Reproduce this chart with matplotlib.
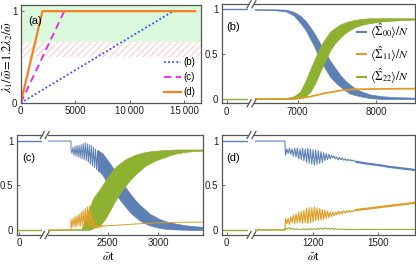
import numpy as np
import matplotlib
matplotlib.use("Agg")
import matplotlib.pyplot as plt
from matplotlib.lines import Line2D

plt.rcParams['font.family'] = ['Liberation Sans', 'DejaVu Sans']
plt.rcParams['mathtext.fontset'] = 'stix'
plt.rcParams['hatch.linewidth'] = 0.7

W, H = 416, 266
fig = plt.figure(figsize=(W / 100, H / 100), dpi=100)

C0, C1, C2 = '#5E81B5', '#E19C24', '#8FB131'
SP = '#555555'
FS = 7

def rect(l, r, t, b):
    return [l / W, 1 - b / H, (r - l) / W, (b - t) / H]

# ---------------- data ----------------
# (a) ramps
a_b_x = [0, 14000, 16000]; a_b_y = [0, 1, 1]
a_c_x = [0, 4000];          a_c_y = [0, 1]
a_d_x = [0, 2000, 16000];  a_d_y = [0, 1, 1]
a_labels = ['(b)', '(c)', '(d)']

# (b) bands
b_x = [6448, 6700, 6850, 6950, 7030, 7100, 7160, 7220, 7285, 7350, 7412, 7475,
       7540, 7600, 7668, 7730, 7796, 7860, 7923, 8000, 8089, 8250, 8498]
b_s00_lo = [0.995, 0.99, 0.975, 0.93, 0.85, 0.77, 0.67, 0.57, 0.44, 0.34, 0.25, 0.19,
            0.14, 0.10, 0.06, 0.045, 0.03, 0.02, 0.01, 0.005, 0.0, 0.0, 0.0]
b_s00_hi = [1.0, 1.0, 0.995, 0.97, 0.93, 0.87, 0.80, 0.72, 0.62, 0.52, 0.43, 0.35,
            0.27, 0.21, 0.16, 0.12, 0.09, 0.07, 0.05, 0.04, 0.03, 0.02, 0.015]
b_s22_lo = [0.0, 0.0, 0.0, 0.005, 0.01, 0.03, 0.08, 0.17, 0.30, 0.42, 0.54, 0.62,
            0.68, 0.73, 0.77, 0.80, 0.82, 0.835, 0.845, 0.855, 0.865, 0.875, 0.885]
b_s22_hi = [0.005, 0.008, 0.01, 0.03, 0.08, 0.20, 0.33, 0.45, 0.58, 0.67, 0.75, 0.79,
            0.83, 0.85, 0.87, 0.88, 0.89, 0.895, 0.90, 0.90, 0.90, 0.90, 0.90]
b_s11_x = [6448, 6950, 7050, 7150, 7250, 7350, 7450, 7550, 7650, 7750, 7900, 8100, 8498]
b_s11_y = [0, 0, 0.01, 0.025, 0.045, 0.065, 0.08, 0.095, 0.103, 0.108, 0.11, 0.112, 0.115]

# (c)
c_start = 1911
c_jump = 2138
c_s00_osc = [0.90, 0.86, 0.93, 0.84, 0.94, 0.83, 0.95, 0.82, 0.95, 0.81, 0.96, 0.80, 0.97,
             0.79, 0.98, 0.78, 0.97, 0.76, 0.96, 0.74, 0.95, 0.72, 0.93, 0.70, 0.91, 0.68,
             0.89, 0.66, 0.86]
c_band_x = [2400, 2450, 2522, 2570, 2622, 2670, 2721, 2770, 2820, 2870, 2918, 2970, 3017,
            3070, 3116, 3180, 3248, 3330, 3440]
c_s00_lo = [0.68, 0.62, 0.48, 0.42, 0.34, 0.27, 0.20, 0.15, 0.105, 0.075, 0.05, 0.035,
            0.022, 0.014, 0.009, 0.005, 0.003, 0.0, 0.0]
c_s00_hi = [0.90, 0.86, 0.75, 0.67, 0.57, 0.49, 0.41, 0.34, 0.28, 0.23, 0.18, 0.15, 0.12,
            0.10, 0.085, 0.07, 0.055, 0.045, 0.035]
c_g_x = [1911, 2240, 2280, 2320, 2360, 2424, 2474, 2524, 2570, 2622, 2670, 2721, 2770,
         2820, 2870, 2918, 2970, 3017, 3070, 3116, 3180, 3248, 3330, 3440]
c_s22_lo = [0, 0, 0, 0, 0.02, 0.05, 0.12, 0.22, 0.32, 0.41, 0.49, 0.56, 0.62, 0.67, 0.72,
            0.75, 0.78, 0.80, 0.82, 0.84, 0.86, 0.875, 0.885, 0.89]
c_s22_hi = [0.004, 0.01, 0.12, 0.25, 0.36, 0.46, 0.55, 0.63, 0.70, 0.75, 0.79, 0.82, 0.845,
            0.86, 0.875, 0.885, 0.89, 0.895, 0.90, 0.90, 0.905, 0.905, 0.905, 0.905]
c_s11_osc = [0.12, 0.03, 0.13, 0.04, 0.15, 0.03, 0.16, 0.05, 0.18, 0.04, 0.20, 0.05, 0.22,
             0.04, 0.24, 0.05, 0.26, 0.04, 0.27, 0.05, 0.20, 0.03, 0.12]
c_s11_wig = [0.02, 0.06, 0.02, 0.055, 0.025, 0.05, 0.03, 0.05, 0.035, 0.05, 0.04, 0.05,
             0.042, 0.05]
c_s11_x = [2550, 2650, 2750, 2850, 2950, 3050, 3150, 3300, 3440]
c_s11_y = [0.05, 0.058, 0.065, 0.072, 0.078, 0.082, 0.085, 0.087, 0.088]

# (d)
d_start = 929
d_jump = 1069
d_s00_osc = [0.84, 0.91, 0.86, 0.92, 0.85, 0.91, 0.83, 0.92, 0.82, 0.92, 0.80, 0.91, 0.79,
             0.92, 0.78, 0.91, 0.76, 0.92, 0.75, 0.91, 0.74, 0.90, 0.73, 0.90, 0.74, 0.89,
             0.75, 0.88, 0.76, 0.87, 0.78, 0.86, 0.79, 0.85, 0.80, 0.84, 0.81]
d_s11_osc = [0.13, 0.07, 0.13, 0.06, 0.15, 0.08, 0.17, 0.07, 0.18, 0.08, 0.20, 0.08, 0.21,
             0.07, 0.22, 0.08, 0.24, 0.07, 0.25, 0.08, 0.25, 0.09, 0.26, 0.10, 0.25, 0.10,
             0.24, 0.11, 0.23, 0.12, 0.22, 0.13, 0.21, 0.14, 0.20, 0.15, 0.20]
d_s00_wig = [0.83, 0.80, 0.82, 0.79, 0.815, 0.79, 0.81, 0.785, 0.80, 0.78, 0.795, 0.78,
             0.79, 0.775, 0.785, 0.775]
d_s11_wig = [0.16, 0.20, 0.17, 0.21, 0.175, 0.21, 0.18, 0.215, 0.19, 0.215, 0.195, 0.22,
             0.20, 0.22, 0.205, 0.222]
d_tail_x = [1400, 1450, 1500, 1550, 1600, 1669]
d_s00_tail = [0.765, 0.745, 0.73, 0.71, 0.695, 0.675]
d_s11_tail = [0.225, 0.24, 0.255, 0.27, 0.285, 0.305]
d_s22_wig = [0.02, 0.01, 0.025, 0.008, 0.018, 0.005, 0.012, 0.004, 0.01, 0.004, 0.012,
             0.004, 0.012, 0.005, 0.013, 0.005, 0.015, 0.006, 0.018, 0.007, 0.022, 0.006,
             0.025, 0.008, 0.022, 0.006, 0.018, 0.006, 0.015, 0.005, 0.012, 0.005, 0.01,
             0.004, 0.009, 0.004, 0.008, 0.004, 0.007, 0.004, 0.006]

legend_labels = [r'$\langle\hat{\Sigma}_{00}\rangle/N$',
                 r'$\langle\hat{\Sigma}_{11}\rangle/N$',
                 r'$\langle\hat{\Sigma}_{22}\rangle/N$']

# ---------------- helpers ----------------
def style(ax, left=True, right=True):
    for s in ax.spines.values():
        s.set_color(SP); s.set_linewidth(0.9)
    ax.spines['left'].set_visible(left)
    ax.spines['right'].set_visible(right)
    ax.tick_params(direction='in', length=2.5, width=0.6, color=SP,
                   labelsize=FS, pad=2.5, labelcolor='#222222')

def draw_break(xc, ytop, ybot):
    for y in (ytop, ybot):
        for dx in (-2.4, 2.4):
            fig.add_artist(Line2D([(xc + dx - 2.0) / W, (xc + dx + 2.0) / W],
                                  [1 - (y + 3.5) / H, 1 - (y - 3.5) / H],
                                  color=SP, lw=0.9))

def broken(lft, mid_l, mid_r, rgt, top, bot, xl_left, xl_right, ylim, xticks):
    axL = fig.add_axes(rect(lft, mid_l, top, bot))
    axR = fig.add_axes(rect(mid_r, rgt, top, bot))
    style(axL, left=True, right=False)
    style(axR, left=False, right=True)
    axL.set_xlim(*xl_left); axR.set_xlim(*xl_right)
    for a in (axL, axR):
        a.set_ylim(*ylim)
    axL.set_xticks([0]); axL.set_xticklabels(['0'])
    axL.set_yticks([0, 0.5, 1]); axL.set_yticklabels(['0', '0.5', '1'])
    axR.set_yticks([])
    axR.set_xticks(xticks); axR.set_xticklabels([str(t) for t in xticks])
    draw_break((mid_l + mid_r) / 2, top, bot)
    return axL, axR

# ---------------- panel (a) ----------------
axa = fig.add_axes(rect(20.7, 200.7, 4.7, 103))
style(axa)
axa.set_xlim(0, 16514); axa.set_ylim(0, 1.07)
axa.axhspan(0.66, 1.07, color='#dcf8dc', lw=0, zorder=0)
axa.axhspan(0.5, 0.66, facecolor='none', edgecolor='#ffc4c4', hatch='/////', lw=0, zorder=0)
axa.plot(a_b_x, a_b_y, ls=(0, (1, 1.3)), color='#3355ee', lw=1.3, label=a_labels[0])
axa.plot(a_c_x, a_c_y, ls=(0, (4, 2.5)), color='#ee22ee', lw=1.3, label=a_labels[1])
axa.plot(a_d_x, a_d_y, color='#f08228', lw=1.6, label=a_labels[2])
axa.set_xticks([0, 5000, 10000, 15000])
axa.set_xticklabels(['0', '5000', '10\u2009000', '15\u2009000'])
axa.set_yticks([0, 1]); axa.set_yticklabels(['0', '1'])
axa.legend(loc='lower right', frameon=False, fontsize=FS, handlelength=1.8,
           handletextpad=0.2, labelspacing=0.5, borderaxespad=0.2)
axa.text(0.04, 0.8, '(a)', transform=axa.transAxes, fontsize=8)
fig.text(8 / W, 1 - 57 / H, r'$\lambda_1/\bar{\omega}\!=\!1.2\lambda_2/\bar{\omega}$',
         rotation=90, ha='center', va='center', fontsize=9)

# ---------------- panel (b) ----------------
bL, bR = broken(221.7, 248.5, 254.5, 415, 4.3, 103.3, (-64, 278), (6448, 8498),
                (-0.048, 1.055), [7000, 8000])
bL.plot([-64, 278], [1, 1], color=C0, lw=1.0)
bL.plot([-64, 278], [0, 0], color=C2, lw=1.0)
bR.fill_between(b_x, b_s00_lo, b_s00_hi, color=C0, lw=0.5, ec=C0)
bR.plot(b_s11_x, b_s11_y, color=C1, lw=1.3)
bR.fill_between(b_x, b_s22_lo, b_s22_hi, color=C2, lw=0.5, ec=C2)
handles = [Line2D([], [], color=c, lw=1.5) for c in (C0, C1, C2)]
bR.legend(handles, legend_labels, loc='center right', bbox_to_anchor=(1.0, 0.5),
          frameon=False, fontsize=8.5, handlelength=0.8, handletextpad=0.3,
          labelspacing=0.25, borderaxespad=0.1)
bL.text(0.18, 0.74, '(b)', transform=bL.transAxes, fontsize=8)

# ---------------- panel (c) ----------------
cL, cR = broken(16.7, 41.5, 48, 202.7, 135, 235, (-23, 222), (1911, 3440),
                (-0.057, 1.068), [2500, 3000])
cL.plot([-23, 222], [1, 1], color=C0, lw=1.0)
cL.plot([-23, 222], [0, 0], color=C2, lw=1.0)
c_osc_x = np.linspace(c_jump, 2420, len(c_s00_osc))
cR.plot([c_start, c_jump] + list(c_osc_x), [1, 1] + c_s00_osc, color=C0, lw=0.7)
cR.fill_between(c_band_x, c_s00_lo, c_s00_hi, color=C0, lw=0.5, ec=C0)
c_o_x = np.linspace(c_jump, 2360, len(c_s11_osc))
c_w_x = np.linspace(2370, 2500, len(c_s11_wig))
cR.plot([c_start, c_jump] + list(c_o_x) + list(c_w_x) + c_s11_x,
        [0, 0] + c_s11_osc + c_s11_wig + c_s11_y, color=C1, lw=0.7)
cR.fill_between(c_g_x, c_s22_lo, c_s22_hi, color=C2, lw=0.5, ec=C2)
cL.text(0.22, 0.74, '(c)', transform=cL.transAxes, fontsize=8)
fig.text(108 / W, 1 - 256 / H, r'$\bar{\omega}$t', ha='center', va='center', fontsize=8)

# ---------------- panel (d) ----------------
dL, dR = broken(221.7, 248.5, 254.5, 415, 135, 235, (-23, 100), (929, 1669),
                (-0.057, 1.068), [1200, 1500])
dL.plot([-23, 100], [1, 1], color=C0, lw=1.0)
dL.plot([-23, 100], [0, 0], color=C2, lw=1.0)
d_osc_x = np.linspace(1072, 1290, len(d_s00_osc))
d_wig_x = np.linspace(1296, 1390, len(d_s00_wig))
dR.plot([d_start, d_jump] + list(d_osc_x) + list(d_wig_x) + d_tail_x,
        [1, 1] + d_s00_osc + d_s00_wig + d_s00_tail, color=C0, lw=0.8)
dR.plot(d_tail_x, d_s00_tail, color=C0, lw=1.6)
dR.plot([d_start, d_jump] + list(d_osc_x) + list(d_wig_x) + d_tail_x,
        [0, 0] + d_s11_osc + d_s11_wig + d_s11_tail, color=C1, lw=0.8)
dR.plot(d_tail_x, d_s11_tail, color=C1, lw=1.6)
d_g_x = np.linspace(1072, 1400, len(d_s22_wig))
dR.plot([d_start, d_jump] + list(d_g_x) + [1669], [0, 0] + d_s22_wig + [0.005],
        color=C2, lw=0.8)
dL.text(0.18, 0.74, '(d)', transform=dL.transAxes, fontsize=8)
fig.text(313 / W, 1 - 256 / H, r'$\bar{\omega}$t', ha='center', va='center', fontsize=8)

fig.savefig('out.png', dpi=100)
